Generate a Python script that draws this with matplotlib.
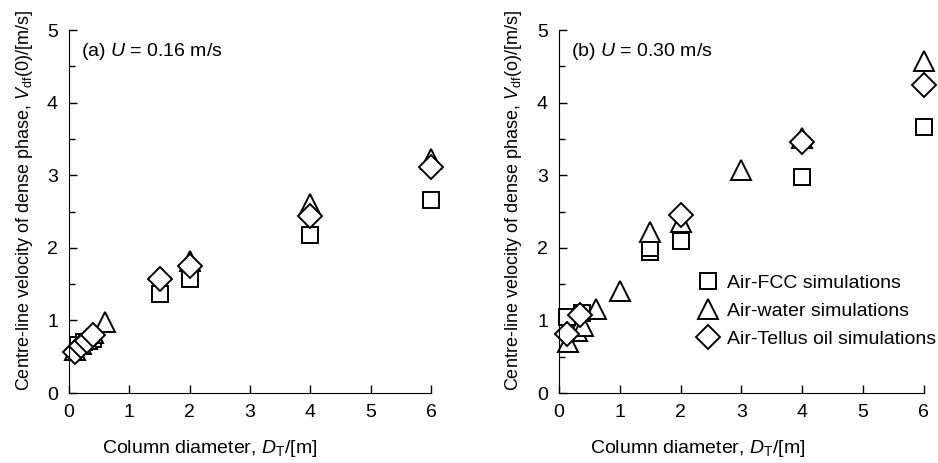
import matplotlib
matplotlib.use("Agg")
import matplotlib.pyplot as plt
from matplotlib.ticker import MultipleLocator

plt.rcParams['font.family'] = ['Liberation Sans', 'DejaVu Sans']
plt.rcParams['mathtext.fontset'] = 'custom'
plt.rcParams['mathtext.rm'] = 'Liberation Sans'
plt.rcParams['mathtext.it'] = 'Liberation Sans:italic'

# ---- Panel (a) U = 0.16 m/s ----
a_fcc_x = [0.15, 0.25, 0.4, 1.5, 2.0, 4.0, 6.0]
a_fcc_y = [0.66, 0.70, 0.75, 1.37, 1.57, 2.18, 2.66]
a_water_x = [0.1, 0.2, 0.3, 0.4, 0.6, 2.0, 4.0, 6.0]
a_water_y = [0.60, 0.68, 0.75, 0.83, 0.98, 1.82, 2.60, 3.22]
a_oil_x = [0.1, 0.2, 0.3, 0.4, 1.5, 2.0, 4.0, 6.0]
a_oil_y = [0.57, 0.65, 0.72, 0.80, 1.57, 1.75, 2.44, 3.11]

# ---- Panel (b) U = 0.30 m/s ----
b_fcc_x = [0.13, 0.37, 1.5, 1.5, 2.0, 4.0, 6.0]
b_fcc_y = [1.05, 1.10, 1.95, 2.00, 2.10, 2.98, 3.66]
b_water_x = [0.15, 0.3, 0.4, 0.6, 1.0, 1.5, 2.0, 3.0, 4.0, 6.0]
b_water_y = [0.71, 0.85, 0.93, 1.16, 1.40, 2.22, 2.36, 3.07, 3.52, 4.58]
b_oil_x = [0.13, 0.35, 2.0, 4.0, 6.0]
b_oil_y = [0.82, 1.07, 2.45, 3.46, 4.24]

labels = ['Air-FCC simulations', 'Air-water simulations', 'Air-Tellus oil simulations']
x_ticks = [0, 1, 2, 3, 4, 5, 6]
y_ticks = [0, 1, 2, 3, 4, 5]

fig = plt.figure(figsize=(9.38, 4.63), dpi=100)
ax1 = fig.add_axes([0.0736, 0.151, 0.386, 0.784])
ax2 = fig.add_axes([0.596, 0.151, 0.389, 0.784])

mk = dict(linestyle='none', markerfacecolor='white', markeredgecolor='black',
          markeredgewidth=1.4, clip_on=False)

def draw(ax, fx, fy, wx, wy, ox, oy, title, ylab, xlab_x):
    ax.plot(fx, fy, marker='s', markersize=12, label=labels[0], **mk)
    ax.plot(wx, wy, marker='^', markersize=15, label=labels[1], **mk)
    ax.plot(ox, oy, marker='D', markersize=12, label=labels[2], **mk)
    ax.set_xlim(0, 6)
    ax.set_ylim(0, 5)
    ax.set_xticks(x_ticks)
    ax.set_yticks(y_ticks)
    ax.yaxis.set_minor_locator(MultipleLocator(0.5))
    ax.spines['top'].set_visible(False)
    ax.spines['right'].set_visible(False)
    ax.tick_params(axis='both', which='major', direction='in', length=6,
                   width=1, labelsize=14, pad=8)
    ax.tick_params(axis='y', which='minor', direction='in', length=4, width=1)
    ax.set_xlabel(r'Column diameter, $D_{\mathrm{T}}$/[m]', fontsize=14)
    ax.xaxis.set_label_coords(xlab_x, -0.125)
    ax.set_ylabel(ylab, fontsize=13)
    ax.yaxis.set_label_coords(-0.095, 0.53)
    ax.text(0.2, 4.85, title, fontsize=14, va='top', ha='left')

draw(ax1, a_fcc_x, a_fcc_y, a_water_x, a_water_y, a_oil_x, a_oil_y,
     r'(a) $U$ = 0.16 m/s',
     r'Centre-line velocity of dense phase, $V_{\mathrm{df}}$(0)/[m/s]', 0.387)
draw(ax2, b_fcc_x, b_fcc_y, b_water_x, b_water_y, b_oil_x, b_oil_y,
     r'(b) $U$ = 0.30 m/s',
     r'Centre-line velocity of dense phase, $V_{\mathrm{df}}$(o)/[m/s]', 0.381)

ax2.legend(loc='center left', bbox_to_anchor=(0.375, 0.226), frameon=False,
           fontsize=14, handletextpad=0.4, labelspacing=0.55, borderaxespad=0,
           handlelength=1.2, borderpad=0)

fig.savefig('out.png', dpi=100)
